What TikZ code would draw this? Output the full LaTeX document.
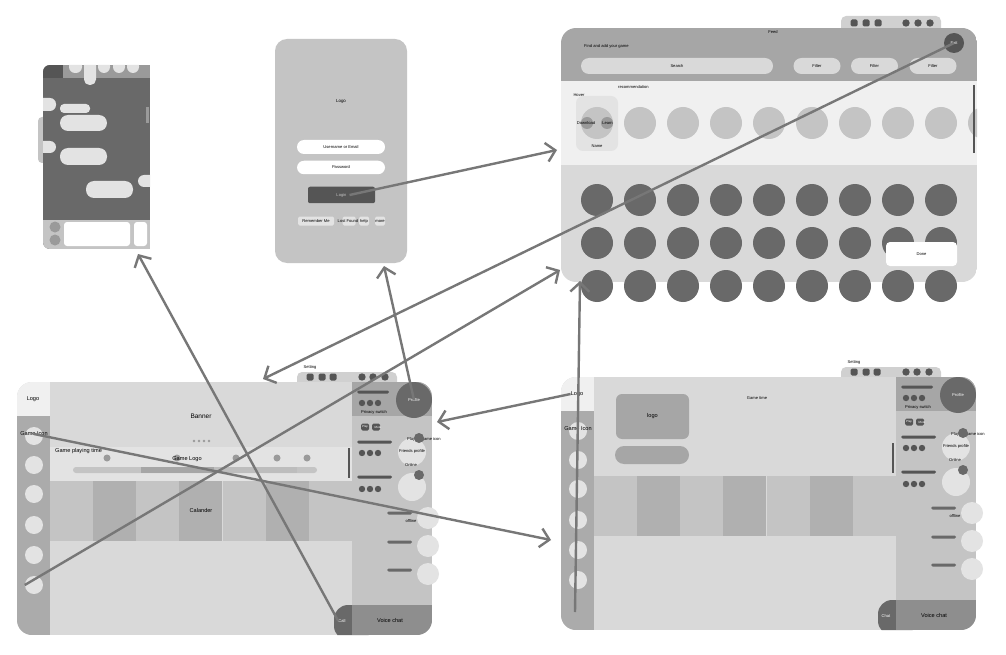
\documentclass[tikz,border=0pt]{standalone}
\usepackage{fontspec}
\setmainfont{Liberation Sans}
\usetikzlibrary{arrows.meta}
\definecolor{cA}{HTML}{F0F0F0}
\definecolor{cB}{HTML}{D9D9D9}
\definecolor{cC}{HTML}{C4C4C4}
\definecolor{cD}{HTML}{ABABAB}
\definecolor{cE}{HTML}{A6A6A6}
\definecolor{cF}{HTML}{696969}
\definecolor{cG}{HTML}{555555}
\definecolor{cH}{HTML}{E3E3E3}
\definecolor{cI}{HTML}{9A9A9A}
\definecolor{cJ}{HTML}{B0B0B0}
\definecolor{cK}{HTML}{8E8E8E}
\definecolor{cL}{HTML}{D0D0D0}
\definecolor{cM}{HTML}{BDBDBD}
\definecolor{arr}{HTML}{777777}
\tikzset{
  t2/.style={inner sep=0pt, font=\fontsize{3}{3.5}\selectfont},
  t3/.style={inner sep=0pt, font=\fontsize{4.1}{4.6}\selectfont},
  t4/.style={inner sep=0pt, font=\fontsize{4.4}{5}\selectfont},
  t5/.style={inner sep=0pt, font=\fontsize{5.6}{6.5}\selectfont},
  t6/.style={inner sep=0pt, font=\fontsize{6.5}{7.5}\selectfont},
  conn/.style={draw=arr, line width=2.4pt, -{Straight Barb[length=9pt,width=19pt]}},
  disc/.style={circle, inner sep=0pt, minimum size=#1},
  rbox/.style={rectangle, inner sep=0pt},
}
\newcommand{\appframe}[3]{%
  \fill[cL, rounded corners=5pt] (297,372) rectangle (397,390);
  \foreach \xx in {310,322,333} \fill[cG, rounded corners=1.5pt] (\xx-3.5,373.5) rectangle (\xx+3.5,380.5);
  \foreach \xx in {362,373,385} \fill[cG] (\xx,377) circle (3.7pt);
  \node[t3] (#1set) at (310,367) {Setting};
  \begin{scope}
    \clip[rounded corners=15pt] (17,382) rectangle (432,635);
    \fill[cB] (17,382) rectangle (432,635);
    \fill[cA] (17,382) rectangle (50,416);
    \fill[cD] (17,416) rectangle (50,635);
    \foreach \xa/\col in {50/cC,93/cJ,136/cC,179/cJ,223/cC,266/cJ,309/cC}
      \fill[\col] (\xa,481) rectangle (\xa+43.3,541);
    #3
    \fill[cG] (347.5,448) rectangle (349.5,478);
    \fill[cC] (352,382) rectangle (432,605);
    \fill[cE] (352,382) rectangle (432,416);
    \fill[cF, rounded corners=14pt] (334,605) rectangle (372,640);
    \fill[cK] (352,605) rectangle (432,635);
  \end{scope}
  \foreach \i/\yy in {1/436,2/465,3/494,4/525,5/555,6/585}
    \node[disc=18pt, fill=cH] (#1c\i) at (34,\yy) {};
  \node[disc=36pt, fill=cF, text=white, t3] (#1prof) at (414,400) {Profile};
  \fill[cG, rounded corners=1.5pt] (357,390.5) rectangle (389,393.5);
  \foreach \xx in {362,370,378} {\fill[cG] (\xx,403) circle (3.2pt); \fill[cG] (\xx,453) circle (3.2pt); \fill[cG] (\xx,489) circle (3.2pt);}
  \node[t3] (#1priv) at (374,412.5) {Privacy switch};
  \fill[cG, rounded corners=1.5pt] (361,423.5) rectangle (369,430.5);
  \fill[cG, rounded corners=1.5pt] (372,423.5) rectangle (380,430.5);
  \node[t2, text=white] (#1play) at (365,427) {Play};
  \node[t2, text=white] (#1mute) at (378,427) {Mute};
  \fill[cG, rounded corners=1.5pt] (357,440.5) rectangle (392,443.5);
  \fill[cG, rounded corners=1.5pt] (357,475.5) rectangle (392,478.5);
  \node[disc=28pt, fill=cH] (#1fa) at (412,452) {};
  \node[disc=28pt, fill=cH] (#1fb) at (412,487) {};
  \node[t3, anchor=west] (#1pgi) at (407,439) {Playing game icon};
  \node[disc=10pt, fill=cF] (#1ga) at (419,438) {};
  \node[disc=10pt, fill=cF] (#1gb) at (419,475) {};
  \node[t3] (#1fp) at (412,451) {Friends profile};
  \node[t3] (#1on) at (411,465) {Online};
  \foreach \yy in {513,542,570} \fill[cF, rounded corners=1.5pt] (387,\yy-1.5) rectangle (412,\yy+1.5);
  \foreach \i/\yy in {1/518,2/546,3/574} \node[disc=22pt, fill=cH] (#1o\i) at (428,\yy) {};
  \node[t3] (#1off) at (411,521) {offline};
  \node[t5] (#1logo) at (33,399) {Logo};
  \node[t5] (#1gi) at (34,434) {Game Icon};
  \node[t3, text=white] (#1call) at (342,621) {#2};
  \node[t5] (#1vc) at (390,620) {Voice chat};
}
\begin{document}
\begin{tikzpicture}[x=1pt,y=-1pt]
\fill[white] (0,0) rectangle (1006,655);
\useasboundingbox (0,0) rectangle (1006,655);

% ---------- Panel A (chat phone) ----------
\fill[cC, rounded corners=4pt] (38,117) rectangle (50,163);
\begin{scope}
  \clip[rounded corners=7pt] (43,65) rectangle (165,249);
  \clip (43,65) rectangle (150,249);
  \fill[cF] (43,65) rectangle (150,249);
  \fill[cG] (43,65) rectangle (63,78);
  \fill[cI] (63,65) rectangle (150,78);
  \fill[cH, rounded corners=6pt] (69,60) rectangle (82,73);
  \fill[cH, rounded corners=5.5pt] (84,60) rectangle (96,85);
  \fill[cH, rounded corners=6pt] (98,60) rectangle (110,73);
  \fill[cH, rounded corners=6pt] (113,60) rectangle (125,73);
  \fill[cH, rounded corners=6pt] (127,60) rectangle (139,73);
  \fill[cH, rounded corners=6pt] (33,98) rectangle (56,111);
  \fill[cH, rounded corners=4pt] (60,104) rectangle (90,113);
  \fill[cH, rounded corners=8pt] (60,115) rectangle (107,131);
  \fill[cH, rounded corners=6pt] (33,141) rectangle (56,153);
  \fill[cH, rounded corners=8pt] (60,148) rectangle (107,165);
  \fill[cH, rounded corners=8pt] (86,181) rectangle (133,198);
  \fill[cH, rounded corners=6pt] (138,175) rectangle (160,187);
  \fill[cI] (146,107) rectangle (148.5,123);
  \fill[cC] (43,220) rectangle (150,249);
  \fill[cI] (55,227) circle (5.5pt);
  \fill[cI] (55,240) circle (5.5pt);
  \fill[white, rounded corners=3pt] (64,222) rectangle (130,246);
  \fill[white, rounded corners=3pt] (134,222) rectangle (147,246);
\end{scope}

% ---------- Panel B (login) ----------
\node[rbox, fill=cC, rounded corners=12pt, minimum width=132pt, minimum height=224pt] (login) at (341,151) {};
\node[t4] (llogo) at (341,101) {Logo};
\node[rbox, fill=white, rounded corners=7pt, minimum width=88pt, minimum height=14pt, t3] (user) at (341,147) {Username or Email};
\node[rbox, fill=white, rounded corners=7pt, minimum width=88pt, minimum height=13.5pt, t3] (pass) at (341,167.5) {Password};
\node[rbox, fill=cG, rounded corners=2pt, minimum width=67pt, minimum height=16.5pt, t3, text=cC] (loginbtn) at (341.5,195) {Login};
\node[rbox, fill=cH, rounded corners=1.5pt, minimum width=36pt, minimum height=9pt, t3] (remember) at (316,221) {Remember Me};
\node[rbox, fill=cH, rounded corners=1.5pt, minimum width=13pt, minimum height=9pt] (lostb) at (349,221) {};
\node[t3] (lost) at (348,221) {Lost Found};
\node[rbox, fill=cH, rounded corners=1.5pt, minimum width=10pt, minimum height=9pt, t3] (help) at (364,221) {help};
\node[rbox, fill=cH, rounded corners=1.5pt, minimum width=10pt, minimum height=9pt, t3] (more) at (380,221) {more};

% ---------- Panel C (feed) ----------
\fill[cL, rounded corners=5pt] (841,16) rectangle (941,34);
\foreach \xx in {854,866,878} \fill[cG, rounded corners=1.5pt] (\xx-3.5,19.5) rectangle (\xx+3.5,26.5);
\foreach \xx in {906,918,930} \fill[cG] (\xx,23) circle (3.7pt);
\begin{scope}
  \clip[rounded corners=15pt] (561,28) rectangle (977,282);
  \fill[cE] (561,28) rectangle (977,81);
  \fill[cA] (561,81) rectangle (977,165);
  \fill[cB] (561,165) rectangle (977,282);
  \foreach \xx in {640,683,...,984} \fill[cC] (\xx,123) circle (16pt);
  \foreach \xx in {597,640,...,941} {\fill[cF] (\xx,200) circle (16pt); \fill[cF] (\xx,243) circle (16pt);}
\end{scope}
\foreach \xx in {597,640,...,941} \fill[cF] (\xx,286) circle (16pt);
\node[t3] (feedt) at (773,32) {Feed};
\node[t3, anchor=west] (findt) at (584,46) {Find and add your game};
\node[rbox, fill=cB, rounded corners=8pt, minimum width=192pt, minimum height=16pt, t3] (search) at (677,66) {Search};
\node[rbox, fill=cB, rounded corners=8pt, minimum width=47pt, minimum height=16pt, t3] (fa) at (817,66) {Filter};
\node[rbox, fill=cB, rounded corners=8pt, minimum width=47pt, minimum height=16pt, t3] (fb) at (874.5,66) {Filter};
\node[rbox, fill=cB, rounded corners=8pt, minimum width=47pt, minimum height=16pt, t3] (fc) at (933,66) {Filter};
\node[disc=20pt, fill=cG, text=white, t3] (exit) at (954,43) {Exit};
\node[t3, anchor=west] (rect) at (618,87) {recommendation};
\node[t3] (hovt) at (579,95) {Hover};
\node[rbox, fill=cH, rounded corners=7pt, minimum width=42pt, minimum height=55pt] (hover) at (597,123.5) {};
\node[disc=32pt, fill=cC] (hc) at (597,123) {};
\node[disc=12pt, fill=cI] (dl) at (587,123) {};
\node[disc=12pt, fill=cI] (ln) at (607,123) {};
\node[t3] (dlt) at (586,123) {Download};
\node[t3] (lnt) at (607.5,123) {Learn};
\node[t3] (namet) at (597,146) {Name};
\fill[cG] (973,85) rectangle (975,153);
\node[rbox, fill=white, rounded corners=4pt, minimum width=71pt, minimum height=24pt, t3] (done) at (921.5,254) {Done};

% ---------- Panel D (main) ----------
\appframe{d}{Call}{%
  \node[t6] (dbanner) at (201,416) {Banner};
  \foreach \xx in {194,199,204,209} \fill[cI] (\xx,441) circle (1.3pt);
  \fill[cH] (50,447) rectangle (352,481);
  \node[t5, anchor=west] (dgpt) at (55,451) {Game playing time};
  \foreach \xx in {107,177,236,277,307} \fill[cI] (\xx,458) circle (3.5pt);
  \node[t5] (dglogo) at (187,459) {Game Logo};
  \fill[cC, rounded corners=3pt] (73,467) rectangle (317,473);
  \fill[cE] (141,467) rectangle (214,473);
  \fill[cM] (214,467) rectangle (297,473);
  \node[t5] (dcal) at (201,510) {Calander};
}

% ---------- Panel E (second main) ----------
\begin{scope}[shift={(544,-5)}]
\appframe{e}{Chat}{%
  \node[rbox, fill=cE, rounded corners=6pt, minimum width=73pt, minimum height=45pt, t5] (elogobox) at (108.5,421.5) {logo};
  \fill[cE, rounded corners=9pt] (71,451) rectangle (145,469);
  \node[t3] (egt) at (213,403) {Game time};
}
\end{scope}

% ---------- connectors ----------
\coordinate (feedW) at (557,150);
\coordinate (dTop) at (263,379);
\coordinate (feedSW) at (560,270);
\coordinate (loginS) at (384,266);
\coordinate (aS) at (138,254);
\coordinate (eW) at (551,540);
\coordinate (dE) at (437,422);
\coordinate (eSide) at (575,612);
\coordinate (feedS) at (580,281);
\draw[conn] ([xshift=8pt]loginbtn.center) -- (feedW);
\draw[conn] (exit.center) -- (dTop);
\draw[conn] (dc6.west) -- (feedSW);
\draw[conn] (dprof.center) -- (loginS);
\draw[conn] (dcall.west) -- (aS);
\draw[conn] (dgi.center) -- (eW);
\draw[conn] (elogo.west) -- (dE);
\draw[conn] (eSide) -- (feedS);
\end{tikzpicture}
\end{document}
